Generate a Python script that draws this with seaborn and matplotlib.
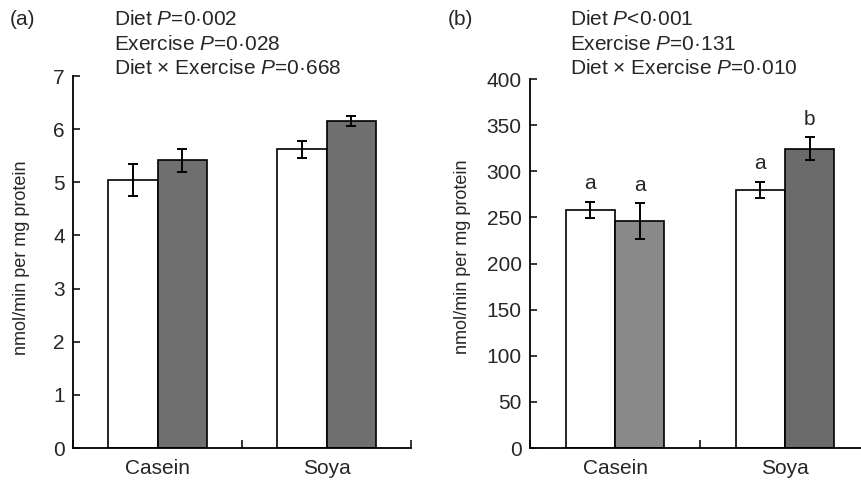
import numpy as np
import pandas as pd
import matplotlib
matplotlib.use("Agg")
import matplotlib.pyplot as plt
import seaborn as sns

# ---------------- data ----------------
diets = ["Casein", "Soya"]
groups = ["Sedentary", "Exercise"]

# order: Casein-Sedentary, Casein-Exercise, Soya-Sedentary, Soya-Exercise
a_means = [5.04, 5.41, 5.62, 6.15]
a_sem = [0.30, 0.21, 0.16, 0.09]
b_means = [258.0, 246.0, 279.5, 324.6]
b_sem = [9.2, 19.5, 9.0, 12.0]
b_letters = ["a", "a", "a", "b"]

a_stats = ["Diet $\\it{P}$=0·002", "Exercise $\\it{P}$=0·028",
           "Diet × Exercise $\\it{P}$=0·668"]
b_stats = ["Diet $\\it{P}$<0·001", "Exercise $\\it{P}$=0·131",
           "Diet × Exercise $\\it{P}$=0·010"]
a_ticks = [0, 1, 2, 3, 4, 5, 6, 7]
b_ticks = [0, 50, 100, 150, 200, 250, 300, 350, 400]
ylabel = "nmol/min per mg protein"

a_colors = ["#ffffff", "#6f6f6f", "#ffffff", "#6f6f6f"]
b_colors = ["#ffffff", "#898989", "#ffffff", "#6b6b6b"]

# ---------------- style ----------------
sns.set_theme(style="ticks")
plt.rcParams["font.family"] = ["Liberation Sans", "DejaVu Sans"]
plt.rcParams["mathtext.fontset"] = "custom"
plt.rcParams["mathtext.rm"] = "Liberation Sans"
plt.rcParams["mathtext.it"] = "Liberation Sans:italic"
FS = 15

W, H = 861, 484
fig = plt.figure(figsize=(W / 100, H / 100), dpi=100)


def px_axes(left, top, right, bottom):
    return fig.add_axes([left / W, 1 - bottom / H, (right - left) / W, (bottom - top) / H])


def panel(ax, means, sems, colors, ticks, letters=None):
    rows = []
    for i, d in enumerate(diets):
        for j, g in enumerate(groups):
            rows.append({"diet": d, "group": g, "value": means[i * 2 + j]})
    df = pd.DataFrame(rows)
    sns.barplot(data=df, x="diet", y="value", hue="group", order=diets,
                hue_order=groups, palette=["#ffffff", "#6f6f6f"], width=0.58,
                edgecolor="black", linewidth=1.2, errorbar=None, legend=False,
                saturation=1, ax=ax)
    for p in ax.patches:
        cx = p.get_x() + p.get_width() / 2
        di = int(round(cx))
        gj = 0 if cx < di else 1
        k = di * 2 + gj
        p.set_facecolor(colors[k])
        ax.errorbar(cx, means[k], yerr=sems[k], fmt="none", ecolor="black",
                    elinewidth=1.4, capsize=3.5, capthick=1.4, zorder=5)
        if letters is not None:
            ax.annotate(letters[k], xy=(cx, means[k] + sems[k]), xytext=(0, 9),
                        textcoords="offset points", ha="center", va="baseline",
                        fontsize=FS)
    ax.set_xlim(-0.5, 1.5)
    ax.set_ylim(ticks[0], ticks[-1])
    ax.set_yticks(ticks)
    ax.set_yticklabels([str(t) for t in ticks], fontsize=FS)
    ax.set_xticks([-0.5, 0.5, 1.5], labels=["", "", ""])
    ax.set_xticks([0, 1], labels=diets, minor=True, fontsize=FS)
    ax.tick_params(axis="x", which="major", direction="in", length=6, width=1.3)
    ax.tick_params(axis="x", which="minor", length=0, pad=8)
    ax.tick_params(axis="y", which="major", direction="in", length=5, width=1.3, pad=6)
    ax.set_xlabel("")
    ax.set_ylabel(ylabel, fontsize=13)
    for s in ["top", "right"]:
        ax.spines[s].set_visible(False)
    for s in ["left", "bottom"]:
        ax.spines[s].set_linewidth(1.3)
        ax.spines[s].set_color("black")


ax1 = px_axes(73, 76, 411, 448)
panel(ax1, a_means, a_sem, a_colors, a_ticks)
ax1.yaxis.set_label_coords((30 - 73) / 338, (448 - 258) / 372)

ax2 = px_axes(530, 79, 870, 448)
panel(ax2, b_means, b_sem, b_colors, b_ticks, b_letters)
ax2.yaxis.set_label_coords((471 - 530) / 340, (448 - 257) / 369)

# panel labels and statistics
for x0, lab in [(10, "(a)"), (448, "(b)")]:
    fig.text(x0 / W, 1 - 25 / H, lab, fontsize=FS, va="baseline", ha="left")
for x0, lines in [(114, a_stats), (570, b_stats)]:
    for yb, t in zip([25, 50, 74], lines):
        fig.text(x0 / W, 1 - yb / H, t, fontsize=FS, va="baseline", ha="left")

fig.savefig("out.png", dpi=100)
